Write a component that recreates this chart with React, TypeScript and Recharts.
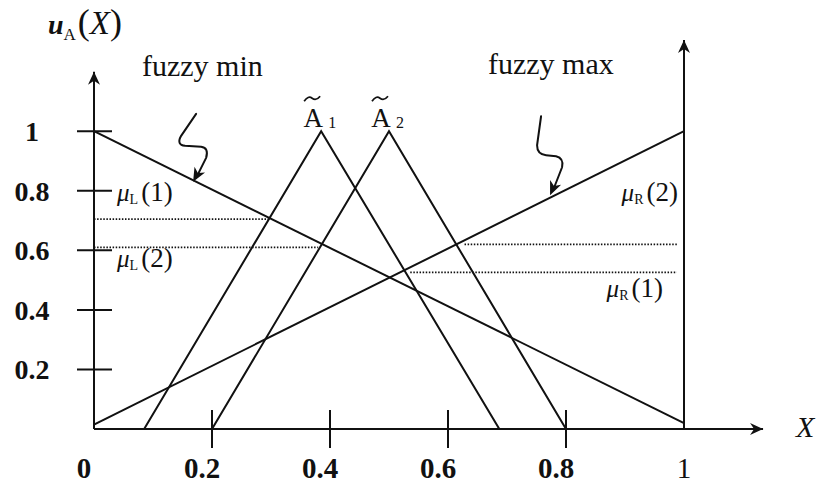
import React from "react";
import { LineChart, Line, XAxis, YAxis, ReferenceLine, ReferenceDot } from "recharts";

const SERIF = '"Liberation Serif", "Times New Roman", serif';
const INK = "#111";

const xTicks = [0, 0.2, 0.4, 0.6, 0.8, 1];
const yTicks = [0.2, 0.4, 0.6, 0.8, 1];

// membership functions
const fuzzyMin = [
  { x: 0, y: 1 },
  { x: 1, y: 0.02 },
];
const fuzzyMax = [
  { x: 0, y: 0.015 },
  { x: 1, y: 1 },
];
const a1 = [
  { x: 0.085, y: 0 },
  { x: 0.385, y: 1 },
  { x: 0.687, y: 0 },
];
const a2 = [
  { x: 0.2, y: 0 },
  { x: 0.5, y: 1 },
  { x: 0.8, y: 0 },
];

// dotted levels
const muL1 = [
  { x: 0, y: 0.705 },
  { x: 0.296, y: 0.705 },
];
const muL2 = [
  { x: 0, y: 0.61 },
  { x: 0.38, y: 0.61 },
];
const muR2 = [
  { x: 0.628, y: 0.62 },
  { x: 0.988, y: 0.62 },
];
const muR1 = [
  { x: 0.536, y: 0.526 },
  { x: 0.988, y: 0.526 },
];

const X_AXIS_END = 1.134;
const LEFT_AXIS_TOP = 1.2;
const RIGHT_AXIS_TOP = 1.306;

function headPoints(x1: number, y1: number, x2: number, y2: number, len = 13, half = 6) {
  const dx = x2 - x1;
  const dy = y2 - y1;
  const d = Math.hypot(dx, dy) || 1;
  const ux = dx / d;
  const uy = dy / d;
  const nx = -uy;
  const ny = ux;
  const bx = x2 - ux * len;
  const by = y2 - uy * len;
  const mx = x2 - ux * (len - 4);
  const my = y2 - uy * (len - 4);
  return `${x2},${y2} ${bx + nx * half},${by + ny * half} ${mx},${my} ${bx - nx * half},${by - ny * half}`;
}

const AxisArrow = (props: any) => {
  const { x1, y1, x2, y2 } = props;
  return (
    <g>
      <line x1={x1} y1={y1} x2={x2} y2={y2} stroke={INK} strokeWidth={2} />
      <polygon points={headPoints(x1, y1, x2, y2)} fill={INK} />
    </g>
  );
};

const XTick = (props: any) => {
  const { x, y, payload } = props;
  const v = payload.value;
  const inner = v > 0 && v < 1;
  return (
    <g>
      {inner ? <line x1={x} x2={x} y1={y - 19} y2={y + 19} stroke={INK} strokeWidth={2} /> : null}
      <text
        x={x + (v === 1 ? 0 : -10)}
        y={y + 49}
        textAnchor="middle"
        fontFamily={SERIF}
        fontSize={29}
        fontWeight={v === 1 ? "normal" : "bold"}
        fill={INK}
      >
        {String(v)}
      </text>
    </g>
  );
};

const YTick = (props: any) => {
  const { x, y, payload } = props;
  return (
    <g>
      <line x1={x - 17} x2={x + 18} y1={y} y2={y} stroke={INK} strokeWidth={2} />
      <text x={x - 62} y={y + 10} textAnchor="middle" fontFamily={SERIF} fontSize={28} fontWeight="bold" fill={INK}>
        {String(payload.value)}
      </text>
    </g>
  );
};

// place any svg bits relative to a data point
const at = (node: React.ReactNode) => (p: any) => <g transform={`translate(${p.cx},${p.cy})`}>{node}</g>;

const Squiggle = ({ d, from }: { d: string; from: [number, number] }) => (
  <g>
    <path d={d} fill="none" stroke={INK} strokeWidth={2} strokeLinecap="round" strokeLinejoin="round" />
    <polygon points={headPoints(from[0], from[1], 0, 0, 14, 6)} fill={INK} />
  </g>
);

const Mu = ({ sub, arg, anchor = "start", x, y }: { sub: string; arg: string; anchor?: string; x: number; y: number }) => (
  <text x={x} y={y} textAnchor={anchor as any} fontFamily={SERIF} fontSize={25} fill={INK}>
    <tspan fontStyle="italic">μ</tspan>
    <tspan fontSize={14} dy={3}>
      {sub}
    </tspan>
    <tspan dy={-3} dx={3} fontSize={27}>
      ({arg})
    </tspan>
  </text>
);

const ATilde = ({ sub }: { sub: string }) => (
  <g>
    <path d="M -17 -30 Q -13 -36 -9 -33 Q -5 -30 -1 -35" fill="none" stroke={INK} strokeWidth={1.7} />
    <text x={-8} y={-4} textAnchor="middle" fontFamily={SERIF} fontSize={27} fill={INK}>
      A
    </text>
    <text x={7} y={-3} fontFamily={SERIF} fontSize={16} fill={INK}>
      {sub}
    </text>
  </g>
);

const line = (data: { x: number; y: number }[], name: string, dotted = false) => (
  <Line
    key={name}
    name={name}
    data={data}
    dataKey="y"
    type="linear"
    stroke={INK}
    strokeWidth={dotted ? 1.8 : 2}
    strokeDasharray={dotted ? "1.5 1.6" : undefined}
    dot={false}
    activeDot={false}
    isAnimationActive={false}
  />
);

export default function App() {
  return (
    <div style={{ position: "absolute", left: 0, top: 0, width: 821, height: 484, background: "#fff", fontFamily: SERIF }}>
      <LineChart width={821} height={484} margin={{ top: 27, right: 19, bottom: 0, left: 0 }}>
        <XAxis
          type="number"
          dataKey="x"
          domain={[0, 1.2]}
          ticks={xTicks}
          interval={0}
          allowDataOverflow
          axisLine={false}
          tickLine={false}
          tickSize={0}
          tickMargin={0}
          height={55}
          tick={XTick}
        />
        <YAxis
          type="number"
          domain={[0, 1.35]}
          ticks={yTicks}
          interval={0}
          allowDataOverflow
          axisLine={false}
          tickLine={false}
          tickSize={0}
          tickMargin={0}
          width={94}
          tick={YTick}
        />

        <ReferenceLine segment={[{ x: 0, y: 0 }, { x: X_AXIS_END, y: 0 }]} ifOverflow="visible" shape={AxisArrow} />
        <ReferenceLine segment={[{ x: 0, y: 0 }, { x: 0, y: LEFT_AXIS_TOP }]} ifOverflow="visible" shape={AxisArrow} />
        <ReferenceLine segment={[{ x: 1, y: 0 }, { x: 1, y: RIGHT_AXIS_TOP }]} ifOverflow="visible" shape={AxisArrow} />

        {line(muL1, "muL1", true)}
        {line(muL2, "muL2", true)}
        {line(muR2, "muR2", true)}
        {line(muR1, "muR1", true)}

        {line(fuzzyMin, "fuzzyMin")}
        {line(fuzzyMax, "fuzzyMax")}
        {line(a1, "A1")}
        {line(a2, "A2")}

        {/* title */}
        <ReferenceDot
          x={0}
          y={LEFT_AXIS_TOP}
          ifOverflow="visible"
          shape={at(
            <text x={-46} y={-38} fontFamily={SERIF} fill={INK}>
              <tspan fontSize={28} fontStyle="italic" fontWeight="bold">
                u
              </tspan>
              <tspan fontSize={17} dy={6}>
                A
              </tspan>
              <tspan fontSize={36} dy={-6} dx={2}>
                (
              </tspan>
              <tspan fontSize={33} fontStyle="italic">
                X
              </tspan>
              <tspan fontSize={36}>)</tspan>
            </text>
          )}
        />
        <ReferenceDot
          x={X_AXIS_END}
          y={0}
          ifOverflow="visible"
          shape={at(
            <text x={33} y={8} fontFamily={SERIF} fontSize={30} fontStyle="italic" fill={INK}>
              X
            </text>
          )}
        />

        <ReferenceDot
          x={0}
          y={LEFT_AXIS_TOP}
          ifOverflow="visible"
          shape={at(
            <text x={48} y={4} fontFamily={SERIF} fontSize={30} fill={INK}>
              fuzzy min
            </text>
          )}
        />
        <ReferenceDot
          x={1}
          y={LEFT_AXIS_TOP}
          ifOverflow="visible"
          shape={at(
            <text x={-196} y={2} fontFamily={SERIF} fontSize={30} fill={INK}>
              fuzzy max
            </text>
          )}
        />

        <ReferenceDot
          x={0.168}
          y={0.83}
          ifOverflow="visible"
          shape={at(
            <Squiggle d="M 3 -68 L -12 -46 Q -17 -37 -8 -36 L 8 -35 Q 16 -34 13 -24 L 3 -4" from={[13, -24]} />
          )}
        />
        <ReferenceDot
          x={0.773}
          y={0.785}
          ifOverflow="visible"
          shape={at(
            <Squiggle d="M -9 -79 L -13 -50 Q -13 -41 -4 -40 L 6 -39 Q 14 -37 12 -28 L 3 -5" from={[12, -28]} />
          )}
        />

        <ReferenceDot x={0.385} y={1} ifOverflow="visible" shape={at(<ATilde sub="1" />)} />
        <ReferenceDot x={0.5} y={1} ifOverflow="visible" shape={at(<ATilde sub="2" />)} />

        <ReferenceDot x={0} y={0.8} ifOverflow="visible" shape={at(<Mu sub="L" arg="1" x={23} y={10} />)} />
        <ReferenceDot x={0} y={0.6} ifOverflow="visible" shape={at(<Mu sub="L" arg="2" x={23} y={17} />)} />
        <ReferenceDot x={1} y={0.8} ifOverflow="visible" shape={at(<Mu sub="R" arg="2" anchor="end" x={-6} y={10} />)} />
        <ReferenceDot x={1} y={0.526} ifOverflow="visible" shape={at(<Mu sub="R" arg="1" anchor="end" x={-21} y={25} />)} />
      </LineChart>
    </div>
  );
}
